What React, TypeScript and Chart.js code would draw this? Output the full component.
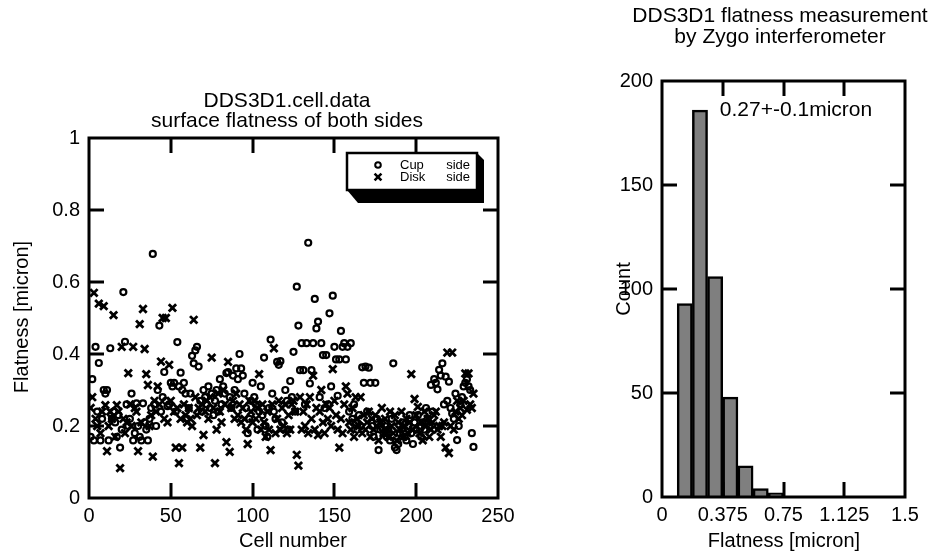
import React, { useEffect, useRef } from 'react';
import { Chart, registerables } from 'chart.js';
Chart.register(...registerables);

// ---- data: cell-by-cell flatness (micron), cells 1..235 ----
const cupSide = [
  0.17, 0.33, 0.16, 0.42, 0.24, 0.375, 0.16, 0.22, 0.30, 0.29,
  0.30, 0.16, 0.416, 0.22, 0.24, 0.21, 0.17, 0.23, 0.14, 0.19,
  0.572, 0.434, 0.26, 0.20, 0.22, 0.29, 0.16, 0.18, 0.263, 0.20,
  0.17, 0.16, 0.263, 0.21, 0.19, 0.16, 0.22, 0.25, 0.678, 0.26,
  0.20, 0.30, 0.479, 0.24, 0.28, 0.35, 0.27, 0.255, 0.26, 0.32,
  0.31, 0.32, 0.24, 0.433, 0.31, 0.348, 0.30, 0.32, 0.29, 0.22,
  0.25, 0.29, 0.395, 0.374, 0.41, 0.42, 0.365, 0.27, 0.24, 0.30,
  0.28, 0.26, 0.31, 0.25, 0.29, 0.23, 0.27, 0.30, 0.24, 0.33,
  0.26, 0.31, 0.29, 0.347, 0.35, 0.28, 0.25, 0.34, 0.30, 0.36,
  0.33, 0.40, 0.36, 0.34, 0.29, 0.25, 0.18, 0.22, 0.27, 0.32,
  0.28, 0.26, 0.19, 0.24, 0.31, 0.23, 0.39, 0.20, 0.17, 0.25,
  0.44, 0.29, 0.24, 0.22, 0.378, 0.37, 0.38, 0.21, 0.19, 0.30,
  0.27, 0.19, 0.325, 0.28, 0.406, 0.24, 0.587, 0.479, 0.355, 0.43,
  0.355, 0.26, 0.43, 0.709, 0.318, 0.355, 0.43, 0.553, 0.471, 0.49,
  0.28, 0.43, 0.397, 0.25, 0.397, 0.26, 0.513, 0.31, 0.562, 0.42,
  0.385, 0.284, 0.385, 0.464, 0.42, 0.43, 0.385, 0.42, 0.24, 0.43,
  0.22, 0.26, 0.21, 0.19, 0.23, 0.20, 0.363, 0.32, 0.365, 0.24,
  0.362, 0.32, 0.20, 0.17, 0.32, 0.22, 0.133, 0.19, 0.21, 0.18,
  0.20, 0.17, 0.19, 0.16, 0.22, 0.374, 0.14, 0.133, 0.15, 0.18,
  0.19, 0.21, 0.17, 0.16, 0.20, 0.23, 0.18, 0.15, 0.21, 0.19,
  0.23, 0.20, 0.17, 0.21, 0.19, 0.25, 0.22, 0.20, 0.314, 0.24,
  0.33, 0.32, 0.302, 0.356, 0.34, 0.374, 0.26, 0.337, 0.27, 0.323,
  0.25, 0.235, 0.22, 0.29, 0.161, 0.20, 0.26, 0.28, 0.31, 0.32,
  0.33, 0.31, 0.30, 0.18, 0.142,
];

const diskSide = [
  0.25, 0.28, 0.57, 0.22, 0.20, 0.54, 0.18, 0.24, 0.533, 0.258,
  0.13, 0.20, 0.24, 0.22, 0.508, 0.17, 0.258, 0.24, 0.083, 0.42,
  0.22, 0.18, 0.21, 0.347, 0.26, 0.20, 0.42, 0.25, 0.24, 0.13,
  0.483, 0.21, 0.525, 0.414, 0.344, 0.314, 0.20, 0.23, 0.115, 0.27,
  0.24, 0.31, 0.26, 0.379, 0.50, 0.22, 0.50, 0.21, 0.37, 0.27,
  0.528, 0.24, 0.14, 0.25, 0.097, 0.22, 0.14, 0.26, 0.23, 0.21,
  0.25, 0.22, 0.20, 0.495, 0.28, 0.23, 0.25, 0.14, 0.26, 0.175,
  0.24, 0.27, 0.22, 0.28, 0.39, 0.25, 0.097, 0.19, 0.29, 0.24,
  0.21, 0.30, 0.26, 0.155, 0.378, 0.128, 0.25, 0.27, 0.22, 0.29,
  0.23, 0.26, 0.21, 0.25, 0.22, 0.19, 0.15, 0.27, 0.24, 0.21,
  0.27, 0.22, 0.25, 0.344, 0.19, 0.26, 0.21, 0.17, 0.24, 0.19,
  0.133, 0.26, 0.416, 0.18, 0.22, 0.27, 0.19, 0.25, 0.20, 0.26,
  0.18, 0.23, 0.19, 0.26, 0.27, 0.24, 0.12, 0.09, 0.28, 0.19,
  0.24, 0.20, 0.26, 0.18, 0.28, 0.22, 0.34, 0.19, 0.25, 0.175,
  0.24, 0.30, 0.21, 0.18, 0.26, 0.22, 0.25, 0.20, 0.358, 0.27,
  0.23, 0.19, 0.14, 0.22, 0.18, 0.26, 0.31, 0.29, 0.21, 0.19,
  0.25, 0.17, 0.28, 0.22, 0.20, 0.28, 0.18, 0.23, 0.19, 0.21,
  0.24, 0.17, 0.22, 0.19, 0.23, 0.20, 0.16, 0.21, 0.25, 0.18,
  0.22, 0.19, 0.17, 0.24, 0.20, 0.18, 0.23, 0.16, 0.21, 0.19,
  0.24, 0.17, 0.20, 0.22, 0.18, 0.21, 0.344, 0.19, 0.275, 0.23,
  0.253, 0.18, 0.21, 0.16, 0.24, 0.20, 0.22, 0.17, 0.19, 0.21,
  0.23, 0.24, 0.19, 0.20, 0.17, 0.20, 0.21, 0.14, 0.404, 0.125,
  0.20, 0.404, 0.19, 0.24, 0.27, 0.22, 0.25, 0.23, 0.27, 0.346,
  0.245, 0.346, 0.26, 0.25, 0.29,
];

// histogram of flatness (both sides)
const histBinStarts = [0.09375, 0.1875, 0.28125, 0.375, 0.46875, 0.5625, 0.65625];
const histBinWidth = 0.09375;
const histCounts = [93, 186, 106, 48, 15, 4, 2];

// tick values
const scatterXTicks = [50, 100, 150, 200];
const scatterYTicks = [0.2, 0.4, 0.6, 0.8];
const histXTicks = [0.375, 0.75, 1.125];
const histYTicks = [50, 100, 150];

const FONT = '"Liberation Sans", Arial, Helvetica, sans-serif';

const framePlugin = {
  id: 'frame',
  afterDraw(chart: any, _args: any, opts: any) {
    const { ctx, chartArea, scales } = chart;
    const { left, right, top, bottom } = chartArea;
    ctx.save();
    ctx.strokeStyle = '#000';
    ctx.lineWidth = 3;
    ctx.lineCap = 'butt';
    const tl = opts.tickLen || 15;
    const line = (x1: number, y1: number, x2: number, y2: number) => {
      ctx.beginPath();
      ctx.moveTo(x1, y1);
      ctx.lineTo(x2, y2);
      ctx.stroke();
    };
    for (const v of opts.xTicks || []) {
      const px = Math.round(scales.x.getPixelForValue(v));
      line(px, bottom, px, bottom - tl);
      line(px, top, px, top + tl);
    }
    for (const v of opts.yTicks || []) {
      const py = Math.round(scales.y.getPixelForValue(v));
      line(left, py, left + tl, py);
      line(right, py, right - tl, py);
    }
    ctx.strokeRect(left, top, right - left, bottom - top);

    ctx.fillStyle = '#000';
    ctx.font = `21px ${FONT}`;
    ctx.textAlign = 'center';
    ctx.textBaseline = 'middle';
    (opts.titleLines || []).forEach((t: any) => ctx.fillText(t.text, t.x, t.y));
    ctx.font = `20px ${FONT}`;
    if (opts.xTitle) ctx.fillText(opts.xTitle.text, opts.xTitle.x, opts.xTitle.y);
    if (opts.yTitle) {
      ctx.save();
      ctx.translate(opts.yTitle.x, opts.yTitle.y);
      ctx.rotate(-Math.PI / 2);
      ctx.fillText(opts.yTitle.text, 0, 0);
      ctx.restore();
    }
    if (opts.note) {
      ctx.textAlign = 'left';
      ctx.font = `21px ${FONT}`;
      const nx = scales.x.getPixelForValue(opts.note.x);
      const ny = scales.y.getPixelForValue(opts.note.y);
      ctx.fillText(opts.note.text, nx, ny);
    }
    if (opts.legend) {
      const L = opts.legend;
      const x0 = L.x, y0 = L.y, w = L.w, h = L.h, dx = L.dx, dy = L.dy;
      ctx.beginPath();
      ctx.moveTo(x0 + w, y0);
      ctx.lineTo(x0 + w + dx, y0 + dx);
      ctx.lineTo(x0 + w + dx, y0 + h + dy);
      ctx.lineTo(x0 + dy - 2, y0 + h + dy);
      ctx.lineTo(x0, y0 + h);
      ctx.closePath();
      ctx.fill();
      ctx.fillStyle = '#fff';
      ctx.fillRect(x0, y0, w, h);
      ctx.lineWidth = 2.5;
      ctx.strokeRect(x0, y0, w, h);
      // symbols
      ctx.lineWidth = 2;
      ctx.beginPath();
      ctx.arc(x0 + 31, y0 + 12, 2.8, 0, Math.PI * 2);
      ctx.stroke();
      ctx.lineWidth = 2.6;
      const cx = x0 + 31, cy = y0 + 24, r = 3.4;
      line(cx - r, cy - r, cx + r, cy + r);
      line(cx - r, cy + r, cx + r, cy - r);
      ctx.fillStyle = '#000';
      ctx.font = `13px ${FONT}`;
      ctx.textAlign = 'left';
      ctx.fillText('Cup', x0 + 53, y0 + 12);
      ctx.fillText('Disk', x0 + 53, y0 + 24);
      ctx.textAlign = 'right';
      ctx.fillText('side', x0 + 123, y0 + 12);
      ctx.fillText('side', x0 + 123, y0 + 24);
    }
    ctx.restore();
  },
};

const baseTicks = { color: '#000', font: { size: 20, family: FONT } };
const fmt = (v: any) => String(Math.round(Number(v) * 1000) / 1000);

export default function App() {
  const ref1 = useRef<HTMLCanvasElement>(null);
  const ref2 = useRef<HTMLCanvasElement>(null);

  useEffect(() => {
    const cupPts = cupSide.map((v, i) => ({ x: i + 1, y: v }));
    const diskPts = diskSide.map((v, i) => ({ x: i + 1, y: v }));

    const c1 = new Chart(ref1.current as HTMLCanvasElement, {
      type: 'scatter',
      data: {
        datasets: [
          {
            label: 'Cup side',
            data: cupPts,
            pointStyle: 'circle',
            pointRadius: 3,
            pointBorderWidth: 2.2,
            borderColor: '#000',
            backgroundColor: 'rgba(0,0,0,0)',
          },
          {
            label: 'Disk side',
            data: diskPts,
            pointStyle: 'crossRot',
            pointRadius: 5.2,
            pointBorderWidth: 2.8,
            borderColor: '#000',
            backgroundColor: '#000',
          },
        ],
      },
      options: {
        responsive: false,
        animation: false,
        events: [],
        layout: { padding: { left: 0, right: 82, top: 138, bottom: 26 } },
        plugins: {
          legend: { display: false },
          title: { display: false },
          tooltip: { enabled: false },
          frame: {
            tickLen: 15,
            xTicks: scatterXTicks,
            yTicks: scatterYTicks,
            titleLines: [
              { text: 'DDS3D1.cell.data', x: 287, y: 101 },
              { text: 'surface flatness of both sides', x: 287, y: 121 },
            ],
            xTitle: { text: 'Cell number', x: 293, y: 541 },
            yTitle: { text: 'Flatness [micron]', x: 22, y: 317 },
            legend: { x: 347, y: 153, w: 130, h: 37, dx: 7, dy: 13 },
          },
        } as any,
        scales: {
          x: {
            type: 'linear',
            min: 0,
            max: 250,
            grid: { display: false, drawTicks: false },
            border: { display: false },
            ticks: { ...baseTicks, stepSize: 50, padding: 6, callback: fmt },
            afterFit: (s: any) => { s.height = 30; },
          },
          y: {
            type: 'linear',
            min: 0,
            max: 1,
            grid: { display: false, drawTicks: false },
            border: { display: false },
            ticks: { ...baseTicks, stepSize: 0.2, padding: 9, callback: fmt },
            afterFit: (s: any) => { s.width = 89; },
          },
        },
      },
      plugins: [framePlugin],
    });

    const histData = histBinStarts.map((s, i) => ({ x: s + histBinWidth / 2, y: histCounts[i] }));

    const c2 = new Chart(ref2.current as HTMLCanvasElement, {
      type: 'bar',
      data: {
        datasets: [
          {
            label: 'Count',
            data: histData as any,
            backgroundColor: '#7f7f7f',
            borderColor: '#000',
            borderWidth: 2.5,
            borderSkipped: 'bottom',
            barPercentage: 1,
            categoryPercentage: 1,
          },
        ],
      },
      options: {
        responsive: false,
        animation: false,
        events: [],
        layout: { padding: { left: 0, right: 27, top: 81, bottom: 27 } },
        plugins: {
          legend: { display: false },
          title: { display: false },
          tooltip: { enabled: false },
          frame: {
            tickLen: 15,
            xTicks: histXTicks,
            yTicks: histYTicks,
            titleLines: [
              { text: 'DDS3D1 flatness measurement', x: 200, y: 16 },
              { text: 'by Zygo interferometer', x: 200, y: 37 },
            ],
            xTitle: { text: 'Flatness [micron]', x: 204, y: 541 },
            yTitle: { text: 'Count', x: 44, y: 289 },
            note: { text: '0.27+-0.1micron', x: 0.357, y: 186 },
          },
        } as any,
        scales: {
          x: {
            type: 'linear',
            min: 0,
            max: 1.5,
            offset: false,
            grid: { display: false, drawTicks: false, offset: false },
            border: { display: false },
            ticks: { ...baseTicks, stepSize: 0.375, padding: 6, callback: fmt },
            afterFit: (s: any) => { s.height = 30; },
          },
          y: {
            type: 'linear',
            min: 0,
            max: 200,
            grid: { display: false, drawTicks: false },
            border: { display: false },
            ticks: { ...baseTicks, stepSize: 50, padding: 9, callback: fmt },
            afterFit: (s: any) => { s.width = 82; },
          },
        },
      },
      plugins: [framePlugin],
    });

    return () => {
      c1.destroy();
      c2.destroy();
    };
  }, []);

  return (
    <div style={{ position: 'fixed', left: 0, top: 0, width: 932, height: 554, background: '#fff' }}>
      <canvas ref={ref1} width={580} height={554} style={{ position: 'absolute', left: 0, top: 0 }} />
      <canvas ref={ref2} width={352} height={554} style={{ position: 'absolute', left: 580, top: 0 }} />
    </div>
  );
}
